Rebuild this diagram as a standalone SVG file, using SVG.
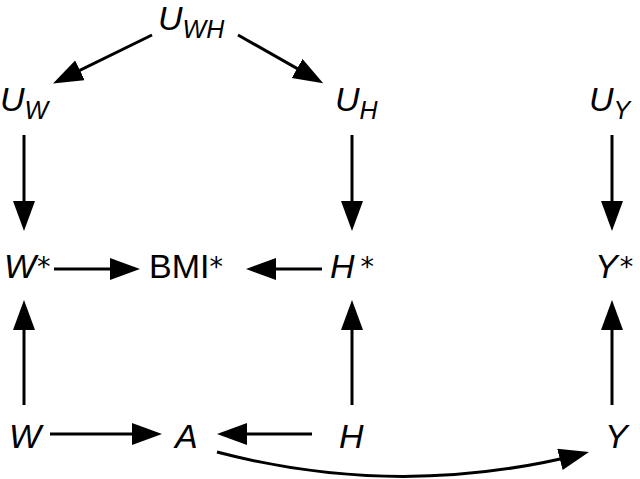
<svg xmlns="http://www.w3.org/2000/svg" width="640" height="479" viewBox="0 0 640 479">
<style>
.t{font-family:"Liberation Sans",Arial,sans-serif;font-size:34px;font-style:italic;fill:#000}
.u{font-style:normal}
.a{font-family:"DejaVu Sans",sans-serif;font-style:normal;font-size:27px}
.s{font-size:25px}
.e{stroke:#000;stroke-width:3;fill:none}
</style>
<defs>
<marker id="ah" markerUnits="userSpaceOnUse" markerWidth="31" markerHeight="24" refX="23" refY="11" orient="auto">
<path d="M0,0 L30,11 L0,22 z" fill="#000"/>
</marker>
</defs>
<rect width="640" height="479" fill="#fff"/>
<g id="edges">
<line class="e" x1="152" y1="35" x2="59.3" y2="80.4" marker-end="url(#ah)"/>
<line class="e" x1="238" y1="35" x2="317.1" y2="79.9" marker-end="url(#ah)"/>
<line class="e" x1="24" y1="135" x2="24" y2="224" marker-end="url(#ah)"/>
<line class="e" x1="352" y1="135" x2="352" y2="224" marker-end="url(#ah)"/>
<line class="e" x1="612" y1="135" x2="612" y2="224" marker-end="url(#ah)"/>
<line class="e" x1="54" y1="269" x2="133" y2="269" marker-end="url(#ah)"/>
<line class="e" x1="322" y1="269" x2="253" y2="269" marker-end="url(#ah)"/>
<line class="e" x1="24" y1="405" x2="24" y2="307" marker-end="url(#ah)"/>
<line class="e" x1="352" y1="405" x2="352" y2="307" marker-end="url(#ah)"/>
<line class="e" x1="612" y1="405" x2="612" y2="307" marker-end="url(#ah)"/>
<line class="e" x1="50" y1="434" x2="155" y2="434" marker-end="url(#ah)"/>
<line class="e" x1="312" y1="434" x2="224" y2="434" marker-end="url(#ah)"/>
<path class="e" d="M217,452 Q400,500 582.2,453.7" marker-end="url(#ah)"/>
</g>
<g id="UWH"><text class="t" x="158" y="30">U<tspan class="s" dy="8">WH</tspan></text></g>
<g id="UW"><text class="t" x="0" y="111">U<tspan class="s" dy="8">W</tspan></text></g>
<g id="UH"><text class="t" x="335" y="111">U<tspan class="s" dy="8">H</tspan></text></g>
<g id="UY"><text class="t" x="589" y="111">U<tspan class="s" dy="8">Y</tspan></text></g>
<g id="Wstar"><text class="t" x="4" y="278">W<tspan class="a" dx="1" dy="-2">*</tspan></text></g>
<g id="BMIstar"><text class="t u" x="149" y="278">BMI<tspan class="a" dy="-2">*</tspan></text></g>
<g id="Hstar"><text class="t" x="330" y="278">H<tspan class="a" dx="6" dy="-2">*</tspan></text></g>
<g id="Ystar"><text class="t" x="595" y="278">Y<tspan class="a" dx="2" dy="-2">*</tspan></text></g>
<g id="W"><text class="t" x="9" y="448">W</text></g>
<g id="A"><text class="t" x="175" y="448">A</text></g>
<g id="H"><text class="t" x="339" y="448">H</text></g>
<g id="Y"><text class="t" x="605" y="448">Y</text></g>
</svg>
